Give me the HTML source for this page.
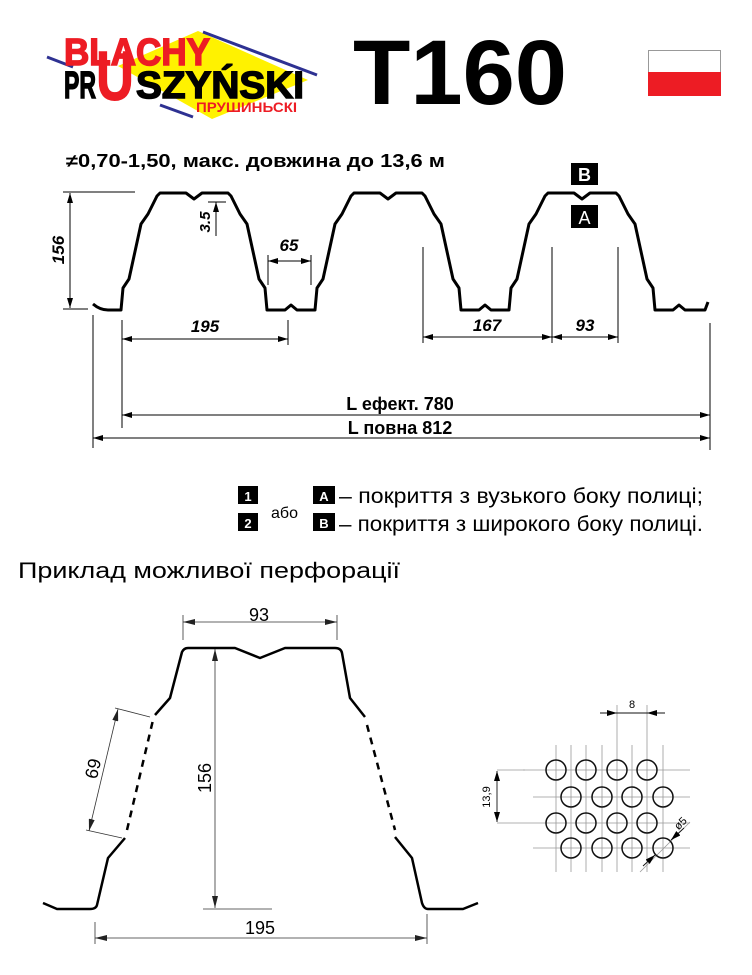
<!DOCTYPE html>
<html><head><meta charset="utf-8"><style>
html,body{margin:0;padding:0;background:#fff}
svg{display:block}
text{font-family:"Liberation Sans",sans-serif}
</style></head><body>
<svg width="752" height="975" viewBox="0 0 752 975" xmlns="http://www.w3.org/2000/svg">
<defs>
<marker id="ar" viewBox="0 0 10 6" refX="10" refY="3" markerWidth="10" markerHeight="6" markerUnits="userSpaceOnUse" orient="auto-start-reverse"><path d="M0,0L10,3L0,6z" fill="#000"/></marker>
<marker id="ag" viewBox="0 0 12 6" refX="12" refY="3" markerWidth="12" markerHeight="6" markerUnits="userSpaceOnUse" orient="auto-start-reverse"><path d="M0,0L12,3L0,6z" fill="#222"/></marker>
</defs>
<!-- logo -->
<polygon points="118,66 198,31 308,80 212,119" fill="#fff200"/>
<line x1="47" y1="57" x2="73" y2="67" stroke="#2e3192" stroke-width="3"/>
<line x1="203" y1="32" x2="317" y2="75" stroke="#2e3192" stroke-width="3"/>
<line x1="160" y1="105" x2="193" y2="117" stroke="#2e3192" stroke-width="3"/>
<text x="64" y="65" font-size="38" font-weight="bold" fill="#ed1c24" stroke="#ed1c24" stroke-width="1.5" textLength="146" lengthAdjust="spacingAndGlyphs">BLACHY</text>
<text x="64" y="98" font-size="38" font-weight="bold" fill="#000" stroke="#000" stroke-width="1.5" textLength="32" lengthAdjust="spacingAndGlyphs">PR</text>
<text x="96" y="100" font-size="70" font-weight="bold" fill="#ed1c24" stroke="#ed1c24" stroke-width="1" textLength="38" lengthAdjust="spacingAndGlyphs">U</text>
<text x="136" y="98" font-size="38" font-weight="bold" fill="#000" stroke="#000" stroke-width="1.5" textLength="168" lengthAdjust="spacingAndGlyphs">SZYŃSKI</text>
<text x="196" y="112" font-size="14" font-weight="bold" fill="#ed1c24" textLength="101" lengthAdjust="spacingAndGlyphs">ПРУШИНЬСКІ</text>
<text x="353" y="104" font-size="92" font-weight="bold" textLength="214" lengthAdjust="spacingAndGlyphs">T160</text>
<rect x="648.5" y="50.5" width="72" height="22" fill="#fff" stroke="#999"/>
<rect x="648" y="72" width="73" height="24" fill="#ed1c24"/>
<text x="66" y="167" font-size="18" font-weight="bold" textLength="379" lengthAdjust="spacingAndGlyphs">≠0,70-1,50, макс. довжина до 13,6 м</text>
<!-- top profile -->
<path d="M93,304 Q100,310 108,310 L121,310 123,288 129,279 141,224 148,214 157,196 160,193 186,193 194,199 202,193 228,193 231,196 240,214 247,224 259,279 265,288 267,310 285,310 291,305 297,310 315,310 317,288 323,279 335,224 342,214 351,196 354,193 380,193 388,199 396,193 422,193 425,196 434,214 441,224 453,279 459,288 461,310 479,310 485,305 491,310 509,310 511,288 517,279 529,224 536,214 545,196 548,193 574,193 582,199 590,193 616,193 619,196 628,214 635,224 647,279 653,288 655,310 673,310 679,305 685,310 705,310 708,302" fill="none" stroke="#000" stroke-width="3" stroke-linejoin="round"/>
<g stroke="#000" stroke-width="1" fill="none">
<line x1="63" y1="192" x2="135" y2="192"/><line x1="63" y1="309" x2="88" y2="309"/>
<line x1="70" y1="193" x2="70" y2="308" marker-start="url(#ar)" marker-end="url(#ar)"/>
<line x1="216" y1="236" x2="216" y2="202" marker-end="url(#ar)"/><line x1="208" y1="202" x2="226" y2="202"/>
<line x1="268" y1="255" x2="268" y2="285"/><line x1="311" y1="255" x2="311" y2="285"/>
<line x1="268" y1="261" x2="311" y2="261" marker-start="url(#ar)" marker-end="url(#ar)"/>
<line x1="122" y1="320" x2="122" y2="428"/><line x1="288" y1="320" x2="288" y2="345"/>
<line x1="122" y1="339" x2="288" y2="339" marker-start="url(#ar)" marker-end="url(#ar)"/>
<line x1="423" y1="247" x2="423" y2="343"/><line x1="552" y1="247" x2="552" y2="343"/><line x1="618" y1="247" x2="618" y2="343"/>
<line x1="423" y1="337" x2="552" y2="337" marker-start="url(#ar)" marker-end="url(#ar)"/>
<line x1="552" y1="337" x2="618" y2="337" marker-start="url(#ar)" marker-end="url(#ar)"/>
<line x1="710" y1="323" x2="710" y2="450"/><line x1="93" y1="315" x2="93" y2="448"/>
<line x1="122" y1="415" x2="710" y2="415" marker-start="url(#ar)" marker-end="url(#ar)"/>
<line x1="93" y1="438" x2="710" y2="438" marker-start="url(#ar)" marker-end="url(#ar)"/>
</g>
<g font-weight="bold" font-style="italic" font-size="17">
<text x="64" y="250" text-anchor="middle" transform="rotate(-90 64 250)">156</text>
<text x="210" y="222" text-anchor="middle" transform="rotate(-90 210 222)" font-size="15">3.5</text>
<text x="289" y="251" text-anchor="middle">65</text>
<text x="205" y="332" text-anchor="middle">195</text>
<text x="487" y="331" text-anchor="middle">167</text>
<text x="585" y="331" text-anchor="middle">93</text>
</g>
<text x="400" y="410" text-anchor="middle" font-size="18" font-weight="bold">L ефект. 780</text>
<text x="400" y="434" text-anchor="middle" font-size="18" font-weight="bold">L повна 812</text>
<rect x="571" y="163" width="27" height="22" fill="#000"/><text x="584.5" y="181" text-anchor="middle" fill="#fff" font-size="18" font-weight="bold">B</text>
<rect x="571" y="205" width="27" height="23" fill="#000"/><text x="584.5" y="224" text-anchor="middle" fill="#fff" font-size="18">A</text>
<!-- legend -->
<rect x="238" y="486" width="20" height="18" fill="#000"/><text x="248" y="501" text-anchor="middle" fill="#fff" font-size="13" font-weight="bold">1</text>
<rect x="238" y="513" width="20" height="18" fill="#000"/><text x="248" y="528" text-anchor="middle" fill="#fff" font-size="13" font-weight="bold">2</text>
<text x="271" y="518" font-size="16">або</text>
<rect x="313" y="486" width="22" height="18" fill="#000"/><text x="324" y="501" text-anchor="middle" fill="#fff" font-size="13" font-weight="bold">A</text>
<rect x="313" y="513" width="22" height="18" fill="#000"/><text x="324" y="528" text-anchor="middle" fill="#fff" font-size="13" font-weight="bold">B</text>
<text x="339" y="503" font-size="21" textLength="364" lengthAdjust="spacingAndGlyphs">– покриття з вузького боку полиці;</text>
<text x="339" y="531" font-size="21" textLength="364" lengthAdjust="spacingAndGlyphs">– покриття з широкого боку полиці.</text>
<text x="18" y="578" font-size="22" textLength="382" lengthAdjust="spacingAndGlyphs">Приклад можливої перфорації</text>
<!-- bottom profile -->
<g fill="none" stroke="#000" stroke-width="2.5" stroke-linejoin="round">
<path d="M43,903 L57,909 90,909 Q96,909 97,905 L108,858 125,838"/>
<path d="M127,830 L153,720" stroke-dasharray="7,6"/>
<path d="M155,715 L170,698 182,652 Q184,648 188,648 L235,648 260,658 285,648 335,648 Q341,648 342,653 L350,698 365,717"/>
<path d="M367,725 L395,830" stroke-dasharray="7,6"/>
<path d="M395,837 L412,858 422,903 Q424,909 428,909 L463,909 478,903"/>
</g>
<g stroke="#333" stroke-width="0.8" fill="none">
<line x1="183" y1="615" x2="183" y2="640"/><line x1="337" y1="615" x2="337" y2="640"/>
<line x1="183" y1="622" x2="337" y2="622" marker-start="url(#ag)" marker-end="url(#ag)"/>
<line x1="215" y1="649" x2="215" y2="908" marker-start="url(#ag)" marker-end="url(#ag)"/>
<line x1="203" y1="909" x2="272" y2="909"/>
<line x1="95" y1="922" x2="95" y2="944"/><line x1="427" y1="914" x2="427" y2="944"/>
<line x1="95" y1="938" x2="427" y2="938" marker-start="url(#ag)" marker-end="url(#ag)"/>
<line x1="118" y1="709" x2="89" y2="831" marker-start="url(#ag)" marker-end="url(#ag)"/>
<line x1="115" y1="708" x2="150" y2="717"/><line x1="86" y1="830" x2="122" y2="838"/>
</g>
<text x="259" y="621" text-anchor="middle" font-size="18">93</text>
<text x="211" y="778" text-anchor="middle" font-size="18" transform="rotate(-90 211 778)">156</text>
<text x="260" y="934" text-anchor="middle" font-size="18">195</text>
<text x="99" y="770" text-anchor="middle" font-size="18" transform="rotate(-77 99 770)">69</text>
<!-- perforation -->
<g stroke="#999" stroke-width="0.8">
<line x1="556" y1="745" x2="556" y2="872"/><line x1="571" y1="745" x2="571" y2="872"/>
<line x1="586" y1="745" x2="586" y2="872"/><line x1="602" y1="745" x2="602" y2="872"/>
<line x1="617" y1="705" x2="617" y2="872"/><line x1="632" y1="745" x2="632" y2="872"/>
<line x1="647" y1="705" x2="647" y2="872"/><line x1="663" y1="745" x2="663" y2="872"/>
<line x1="523" y1="770" x2="690" y2="770"/><line x1="533" y1="797" x2="690" y2="797"/>
<line x1="497" y1="823" x2="690" y2="823"/><line x1="533" y1="848" x2="690" y2="848"/>
<line x1="497" y1="770" x2="525" y2="770"/>
<line x1="640" y1="872" x2="690" y2="822"/>
</g>
<g stroke="#111" stroke-width="0.9">
<line x1="600" y1="713" x2="617" y2="713" marker-end="url(#ar)"/>
<line x1="665" y1="713" x2="647" y2="713" marker-end="url(#ar)"/>
<line x1="617" y1="713" x2="647" y2="713"/>
<line x1="497" y1="771" x2="497" y2="822" marker-start="url(#ar)" marker-end="url(#ar)"/>
<line x1="643" y1="866" x2="655" y2="855" marker-end="url(#ar)"/>
<line x1="684" y1="828" x2="671" y2="840" marker-end="url(#ar)"/>
</g>
<g fill="none" stroke="#111" stroke-width="1.5">
<circle cx="556" cy="770" r="10"/><circle cx="586" cy="770" r="10"/><circle cx="617" cy="770" r="10"/><circle cx="647" cy="770" r="10"/>
<circle cx="571" cy="797" r="10"/><circle cx="602" cy="797" r="10"/><circle cx="632" cy="797" r="10"/><circle cx="663" cy="797" r="10"/>
<circle cx="556" cy="823" r="10"/><circle cx="586" cy="823" r="10"/><circle cx="617" cy="823" r="10"/><circle cx="647" cy="823" r="10"/>
<circle cx="571" cy="848" r="10"/><circle cx="602" cy="848" r="10"/><circle cx="632" cy="848" r="10"/><circle cx="663" cy="848" r="10"/>
</g>
<text x="632" y="708" text-anchor="middle" font-size="11">8</text>
<text x="490" y="797" text-anchor="middle" font-size="11" transform="rotate(-90 490 797)">13,9</text>
<text x="683" y="826" text-anchor="middle" font-size="11" transform="rotate(-45 683 826)">ø5</text>
</svg>
</body></html>
